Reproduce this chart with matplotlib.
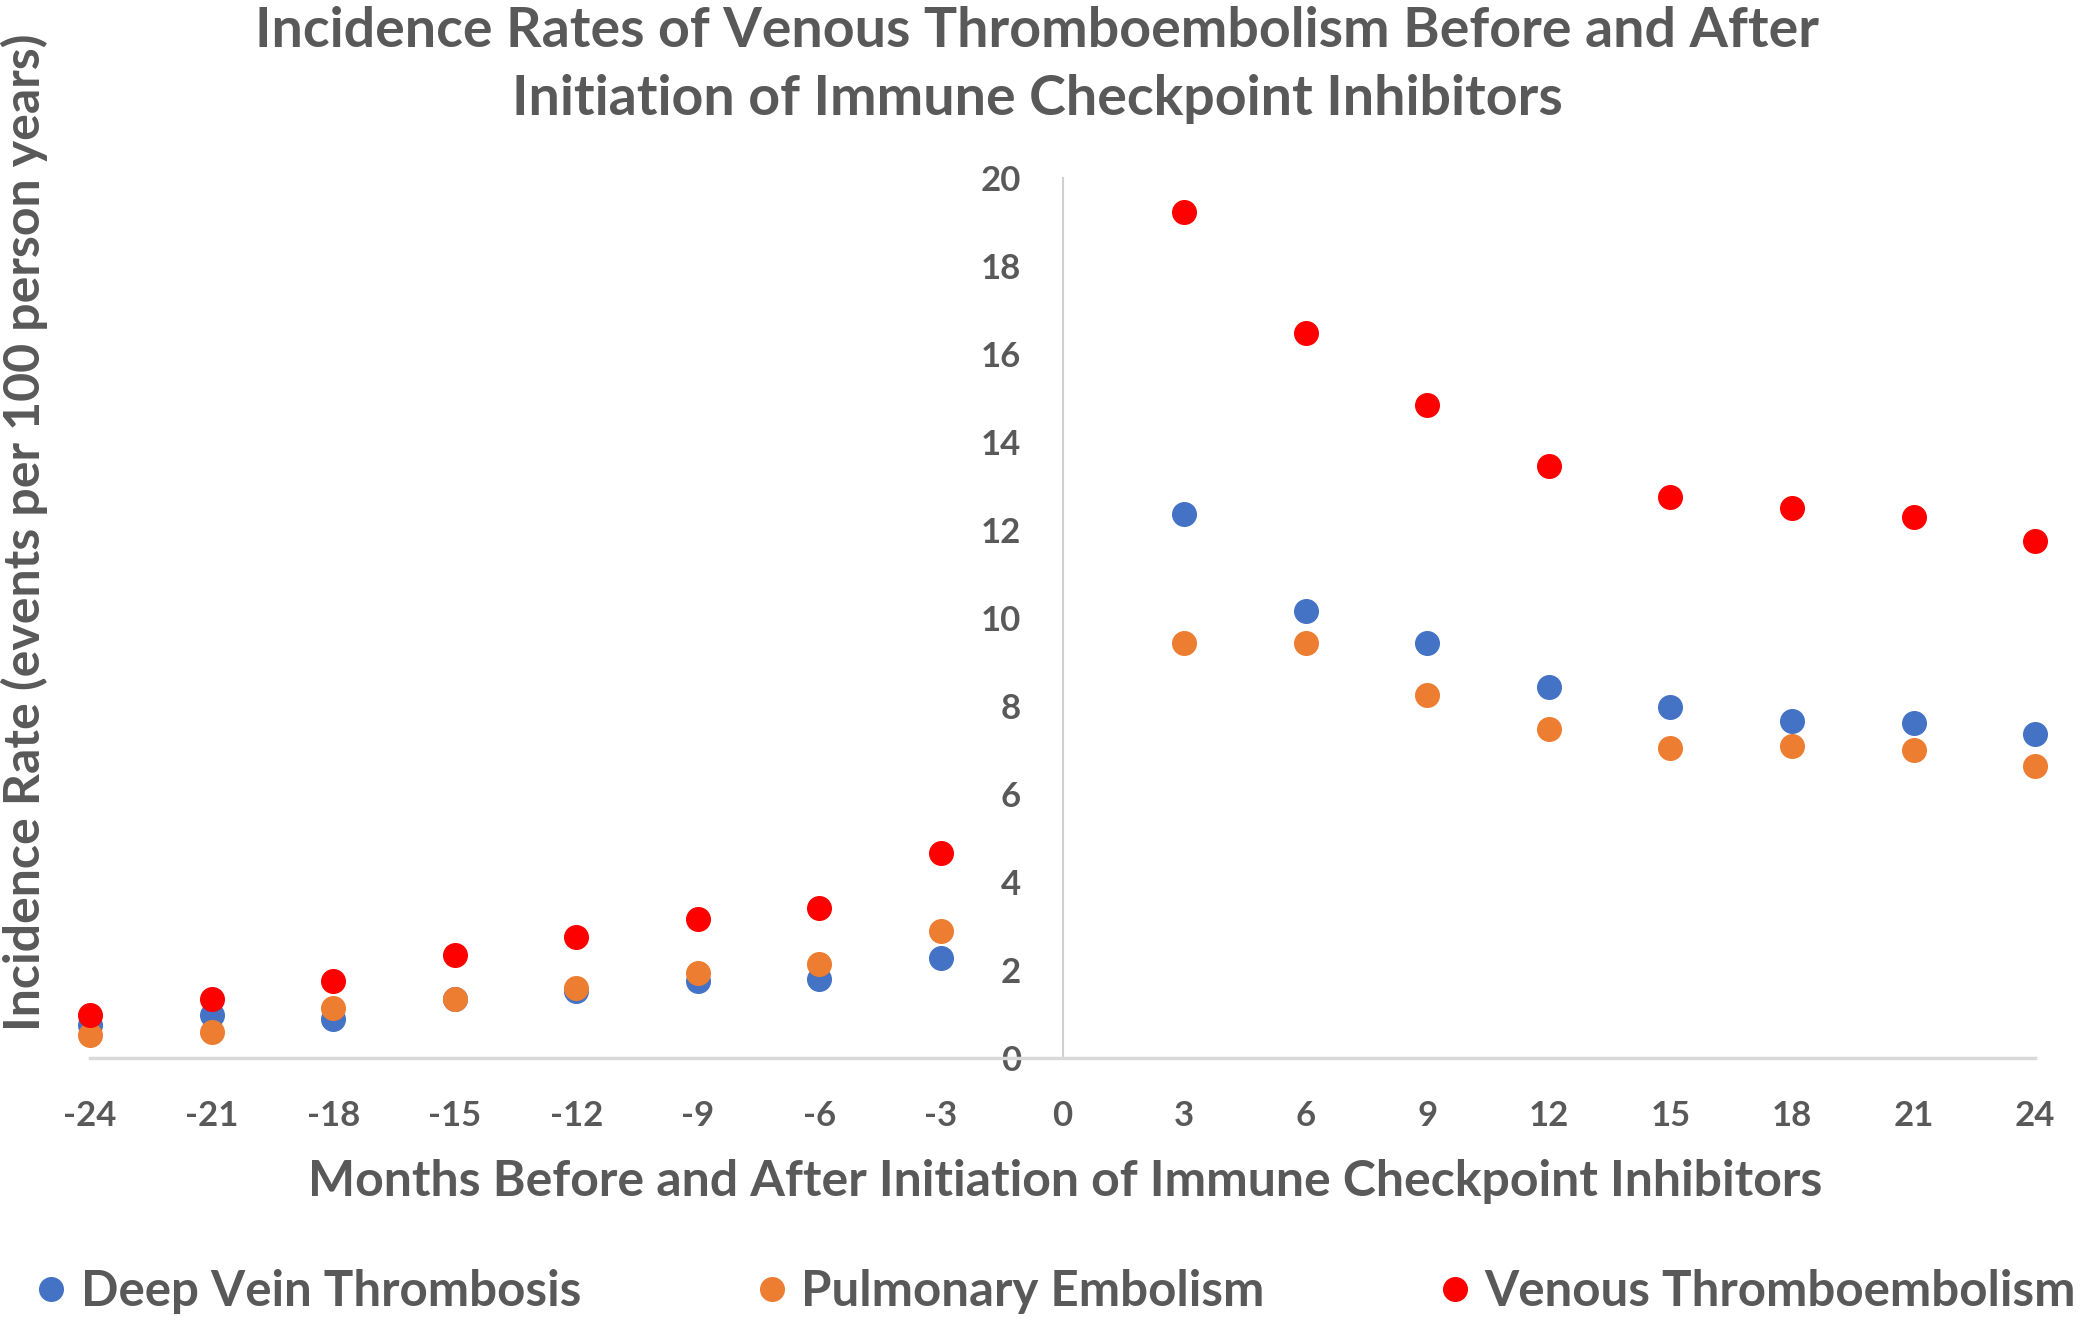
import matplotlib
matplotlib.use("Agg")
import matplotlib.pyplot as plt

# data (events per 100 person years)
months = [-24, -21, -18, -15, -12, -9, -6, -3, 3, 6, 9, 12, 15, 18, 21, 24]
dvt = [0.75, 0.98, 0.89, 1.35, 1.52, 1.74, 1.80, 2.27,
       12.37, 10.16, 9.42, 8.44, 7.98, 7.67, 7.62, 7.36]
pe = [0.53, 0.60, 1.13, 1.34, 1.60, 1.94, 2.14, 2.89,
      9.42, 9.42, 8.24, 7.47, 7.04, 7.09, 6.99, 6.64]
vte = [0.98, 1.34, 1.75, 2.33, 2.75, 3.16, 3.42, 4.66,
       19.22, 16.48, 14.85, 13.46, 12.74, 12.49, 12.29, 11.76]

series_names = ['Deep Vein Thrombosis', 'Pulmonary Embolism', 'Venous Thromboembolism']
colors = ['#4472C4', '#ED7D31', '#FF0000']
xticks = list(range(-24, 25, 3))
yticks = list(range(0, 21, 2))

txt = '#595959'
plt.rcParams['font.family'] = ['Lato', 'DejaVu Sans']
plt.rcParams['font.weight'] = 'bold'
plt.rcParams['axes.unicode_minus'] = False

fig = plt.figure(figsize=(21, 13.23), dpi=100)
ax = fig.add_axes([0.0429, 0.2003, 0.9262, 0.6652])

for vals, c, name in zip([dvt, pe, vte], colors, series_names):
    ax.plot(months, vals, 'o', color=c, markersize=17, label=name, clip_on=False, zorder=3)

ax.set_xlim(-24, 24)
ax.set_ylim(0, 20)
ax.set_xticks(xticks)
ax.set_xticklabels([str(v) for v in xticks])
ax.set_yticks(yticks)

ax.spines['top'].set_visible(False)
ax.spines['right'].set_visible(False)
ax.spines['left'].set_position(('data', 0))
ax.spines['left'].set_color('#D0D0D0')
ax.spines['left'].set_linewidth(1.5)
ax.spines['bottom'].set_color('#D9D9D9')
ax.spines['bottom'].set_linewidth(2.5)

ax.tick_params(axis='both', length=0, labelsize=25, labelcolor=txt)
ax.tick_params(axis='x', pad=30)
ax.tick_params(axis='y', pad=30)
for lab in ax.get_xticklabels() + ax.get_yticklabels():
    lab.set_fontweight('bold')

fig.text(0.494, 0.951, 'Incidence Rates of Venous Thromboembolism Before and After\n'
         'Initiation of Immune Checkpoint Inhibitors',
         ha='center', va='center', fontsize=40, color=txt, fontweight='bold',
         linespacing=1.45)
fig.text(0.507, 0.1066, 'Months Before and After Initiation of Immune Checkpoint Inhibitors',
         ha='center', va='center', fontsize=36, color=txt, fontweight='bold')
fig.text(0.0114, 0.598, 'Incidence Rate (events per 100 person years)',
         ha='center', va='center', rotation=90, fontsize=36, color=txt, fontweight='bold')

leg = fig.legend(loc='lower left', bbox_to_anchor=(0.008, -0.008, 0.99, 0.05),
                 mode='expand', ncol=3, frameon=False, fontsize=35.5,
                 handlelength=0.6, handletextpad=0.3, borderaxespad=0.0)
for t in leg.get_texts():
    t.set_color(txt)
    t.set_fontweight('bold')

fig.savefig('out.png', dpi=100)
